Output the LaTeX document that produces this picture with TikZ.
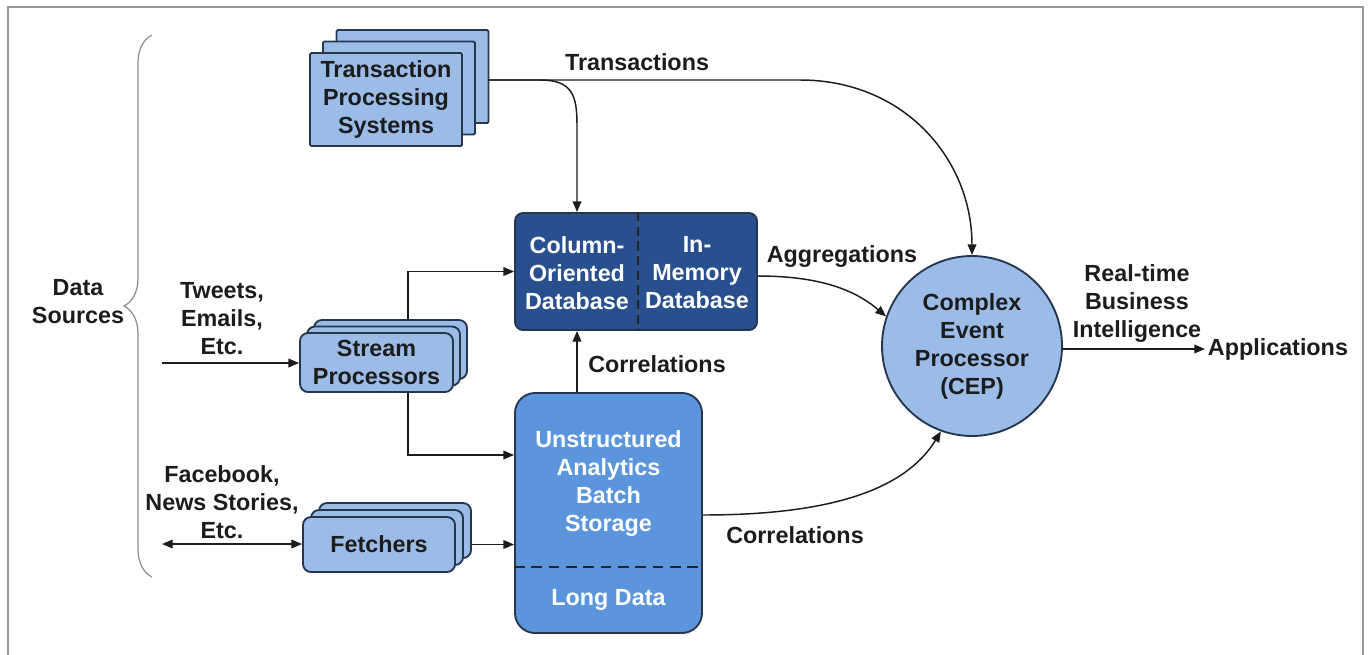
\documentclass[tikz,border=0pt]{standalone}
\usepackage{fontspec}
\setmainfont{Liberation Sans}
\usetikzlibrary{arrows.meta,decorations.pathreplacing,calc}
\definecolor{lightbox}{HTML}{9CBCE8}
\definecolor{boxline}{HTML}{26364F}
\definecolor{darkbox}{HTML}{28508E}
\definecolor{midbox}{HTML}{5B96DC}
\definecolor{txt}{HTML}{1C1C1C}
\tikzset{
  base/.style={font=\fontsize{17.5}{21}\selectfont\bfseries, text=txt, align=center},
  lbox/.style={base, draw=boxline, line width=1.4pt, fill=lightbox, inner sep=0pt},
  tpsbox/.style={lbox, minimum width=114pt, minimum height=69.75pt, rounded corners=1pt},
  strbox/.style={lbox, minimum width=114.75pt, minimum height=44.25pt, rounded corners=6pt},
  fetbox/.style={lbox, minimum width=114pt, minimum height=41.25pt, rounded corners=6pt},
  wtxt/.style={base, text=white},
  lbl/.style={base},
  conn/.style={draw=txt, line width=1.1pt},
  arr/.style={conn, -{Triangle[length=8pt,width=6.5pt]}},
  darr/.style={conn, {Triangle[length=8pt,width=6.5pt]}-{Triangle[length=8pt,width=6.5pt]}}
}
\begin{document}
\begin{tikzpicture}[x=0.75pt,y=-0.75pt]
\useasboundingbox (0,0) rectangle (1369,654);
\begin{scope}
\clip (0,0) rectangle (1369,654);
\draw[draw=gray!80, line width=1.5pt] (8,7) rectangle (1363,700);
\end{scope}

% Data sources brace
\draw[draw=gray!90, line width=0.9pt, decorate, decoration={brace, amplitude=21pt}] (152,577) -- (152,35);
\node[lbl] (ds) at (78,302) {Data\\Sources};

% Transaction processing systems
\node[tpsbox] (tps3) at (412.5,76.5) {};
\node[tpsbox] (tps2) at (399,88) {};
\node[tpsbox] (tps1) at (386,99.5) {Transaction\\Processing\\Systems};

% Stream processors
\node[strbox] (str3) at (390.5,349.5) {};
\node[strbox] (str2) at (383.5,356) {};
\node[strbox] (str1) at (376.5,362.5) {Stream\\Processors};

% Fetchers
\node[fetbox] (fet3) at (395,530.5) {};
\node[fetbox] (fet2) at (387,537.5) {};
\node[fetbox] (fet1) at (379,544.5) {Fetchers};

% Column / In-memory database
\node[draw=boxline, line width=1.4pt, fill=darkbox, rounded corners=6pt,
      minimum width=181.5pt, minimum height=87.75pt, inner sep=0pt] (col) at (636,271.5) {};
\draw[draw=black!85, line width=1.4pt, dash pattern=on 7pt off 4pt] (638,0 |- col.north) -- (638,0 |- col.south);
\node[wtxt] (colL) at (577,273) {Column-\\Oriented\\Database};
\node[wtxt] (colR) at (697,273) {In-\\Memory\\Database};

% Unstructured analytics
\node[draw=boxline, line width=1.4pt, fill=midbox, rounded corners=15pt,
      minimum width=140.25pt, minimum height=180pt, inner sep=0pt] (uns) at (608.5,513) {};
\draw[draw=black!85, line width=1.4pt, dash pattern=on 8pt off 5pt] (uns.west |- 0,567) -- (uns.east |- 0,567);
\node[wtxt] (unsT) at (608.5,484) {Unstructured\\Analytics\\Batch\\Storage};
\node[wtxt] (unsL) at (608.5,600) {Long Data};

% CEP
\node[base, circle, draw=boxline, line width=1.4pt, fill=lightbox, minimum size=135pt, inner sep=0pt] (cep) at (972,346) {Complex\\Event\\Processor\\(CEP)};

% Applications
\node[lbl, anchor=west, inner sep=2pt] (app) at (1205,349) {Applications};

% labels
\node[lbl] (lTrans) at (637,62) {Transactions};
\node[lbl] (lAgg) at (842,257) {Aggregations};
\node[lbl] (lCor1) at (657,364) {Correlations};
\node[lbl] (lCor2) at (795,535) {Correlations};
\node[lbl] (lRT) at (1137,304) {Real-time\\Business\\Intelligence};
\node[lbl] (lTw) at (222,319) {Tweets,\\Emails,\\Etc.};
\node[lbl] (lFb) at (222,502) {Facebook,\\News Stories,\\Etc.};

\coordinate (tw) at (162,363);
\coordinate (fb) at (162,544);
\coordinate (tpsout) at (488,80);

% connectors
\draw[arr] (tpsout) -- (800,80) .. controls (905,80) and (972,160) .. (cep.north);
\draw[arr] (tpsout) -- (540,80) .. controls (572,80) and (577,95) .. (577,125) -- (colL |- col.north);
\draw[arr] (408,0 |- str3.north) |- (col.west);
\draw[arr] (408,0 |- str1.south) |- (uns.west |- 0,455);
\draw[arr] (fet1.east -| fet3.east) -- (fet1.east -| uns.west);
\draw[arr] (tw) -- (str1.west |- tw);
\draw[darr] (fb) -- (fet1.west |- fb);
\draw[arr] (colL |- uns.north) -- (colL |- col.south);
\draw[arr] (col.east |- 0,276) .. controls (820,276) and (855,290) .. (cep.161);
\draw[arr] (uns.east |- 0,515) .. controls (830,515) and (905,490) .. (cep.250);
\draw[arr] (cep.east |- app.west) -- (app.west);
\end{tikzpicture}
\end{document}
